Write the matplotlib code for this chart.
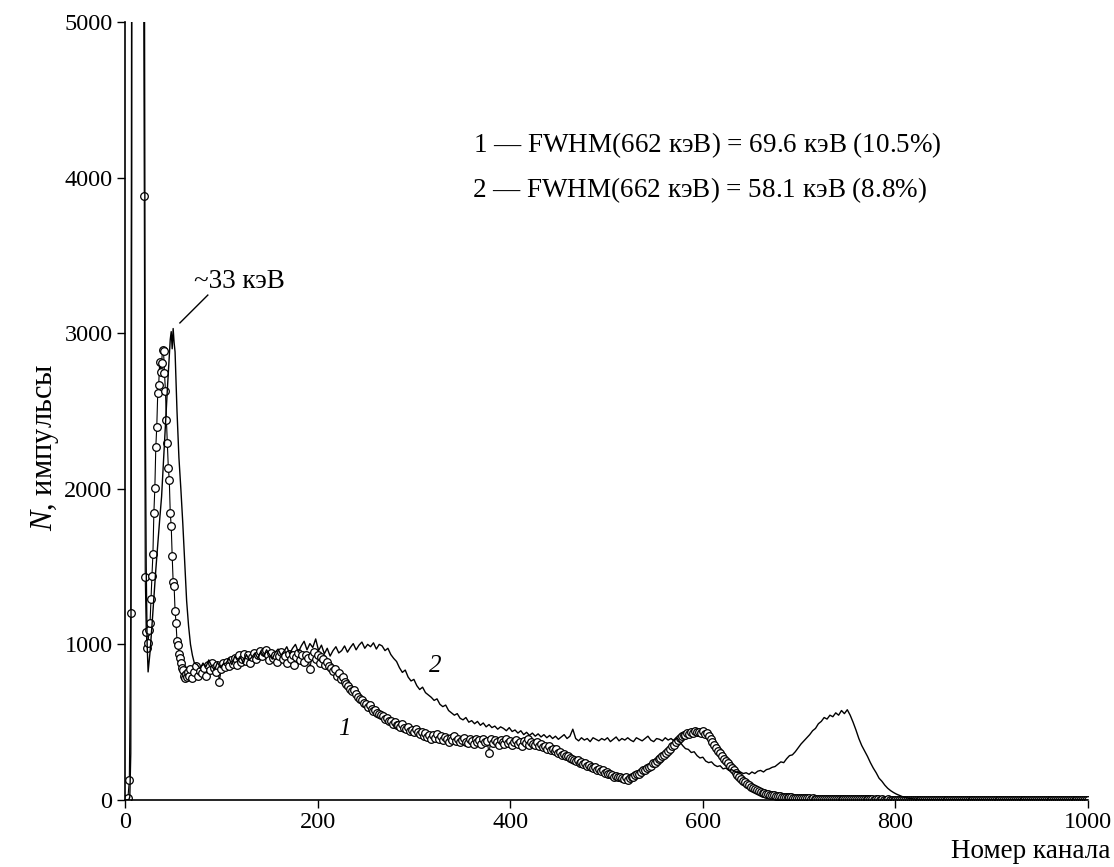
import numpy as np
import matplotlib
matplotlib.use("Agg")
import matplotlib.pyplot as plt

plt.rcParams['font.family'] = ['Liberation Serif', 'DejaVu Serif']
plt.rcParams['mathtext.fontset'] = 'custom'
plt.rcParams['mathtext.rm'] = 'Liberation Serif'
plt.rcParams['mathtext.it'] = 'Liberation Serif:italic'

# ---------------- curve 1 (open circles) ----------------
c1_head_ch = [0, 1.5, 3, 4.5, 6, 7.5, 9, 10.5, 12, 13.5, 15, 16.5, 18, 19]
c1_head_n = [0, 4, 10, 128, 1200, 9000, 15000, 19000, 21000, 20000, 17000, 13000, 8000, 6000]

# channels 20..65, one per channel
c1_peak_n = [3880, 1435, 1080, 977, 1009, 1093, 1137, 1292, 1441, 1581,
             1847, 2005, 2269, 2399, 2614, 2667, 2817, 2753, 2811, 2892,
             2888, 2746, 2629, 2442, 2296, 2134, 2057, 1843, 1762, 1568,
             1403, 1375, 1215, 1137, 1024, 996, 938, 913, 880, 850,
             835, 800, 784, 810, 790, 825]

# channels 66..698, step 2
c1_body_n = [800, 840, 785, 820, 860, 800, 830, 815, 850, 795,
             870, 835, 880, 850, 820, 865, 760, 845, 880, 855,
             890, 860, 900, 875, 915, 870, 930, 885, 905, 940,
             895, 935, 880, 920, 945, 905, 930, 960, 925, 950,
             965, 930, 900, 945, 915, 935, 890, 925, 950, 905,
             925, 880, 940, 905, 930, 870, 920, 945, 900, 930,
             890, 935, 915, 840, 925, 950, 905, 935, 880, 920,
             905, 870, 890, 860, 850, 830, 845, 800, 815, 780,
             790, 760, 745, 730, 715, 700, 705, 680, 665, 650,
             640, 625, 615, 600, 610, 585, 575, 580, 560, 555,
             545, 540, 520, 530, 510, 505, 490, 500, 480, 485,
             470, 490, 460, 455, 470, 445, 450, 435, 455, 440,
             425, 440, 410, 430, 405, 420, 395, 415, 400, 425,
             390, 410, 385, 405, 395, 375, 400, 385, 410, 380,
             395, 370, 385, 400, 375, 365, 390, 380, 360, 395,
             375, 385, 360, 395, 370, 380, 300, 390, 365, 385,
             370, 355, 385, 375, 360, 390, 365, 380, 355, 375,
             385, 360, 375, 350, 380, 365, 390, 355, 370, 360,
             355, 375, 345, 360, 340, 350, 330, 345, 320, 330,
             315, 325, 300, 310, 290, 295, 280, 285, 270, 265,
             260, 250, 255, 240, 245, 230, 235, 220, 225, 215,
             205, 210, 195, 200, 185, 190, 175, 180, 170, 165,
             160, 150, 155, 145, 150, 140, 135, 145, 130, 140,
             150, 145, 160, 170, 165, 180, 190, 195, 205, 215,
             220, 235, 240, 250, 265, 270, 285, 290, 305, 315,
             330, 345, 355, 370, 385, 400, 410, 420, 415, 430,
             425, 440, 430, 445, 435, 440, 430, 445, 425, 430,
             410, 390, 375, 355, 335, 315, 300, 280, 265, 250,
             235, 220, 205, 190, 175, 160, 150, 135, 125, 115,
             105, 95, 85, 78, 70, 64, 58, 52, 48, 43,
             40, 36, 33, 31, 29, 27, 25, 23, 22, 20,
             19, 18, 17, 16, 15, 14, 13]

# channels 700..998, step 2, then channel 1000
c1_tail_n = [12, 11, 12, 10, 11, 10, 9, 10, 9, 8,
             9, 8, 8, 7, 8, 7, 7, 6, 7, 6,
             6, 7, 6, 5, 6, 5, 5, 6, 5, 4,
             5, 5, 4, 5, 4, 4, 5, 4, 4, 3,
             4, 4, 3, 4, 3, 3, 4, 3, 3, 2,
             3, 3, 2, 3, 3, 2, 3, 2, 2, 3,
             2, 2, 3, 2, 2, 2, 3, 2, 2, 1,
             2, 2, 2, 1, 2, 2, 1, 2, 1, 2,
             2, 1, 2, 1, 1, 2, 1, 2, 1, 1,
             2, 1, 1, 1, 2, 1, 1, 1, 1, 2,
             1, 1, 1, 1, 2, 1, 1, 0, 1, 1,
             1, 0, 1, 1, 1, 0, 1, 1, 0, 1,
             1, 0, 1, 0, 1, 1, 0, 1, 0, 1,
             0, 1, 1, 0, 1, 0, 0, 1, 0, 1,
             0, 1, 0, 0, 1, 0, 1, 0, 0, 1,
             0]

# ---------------- curve 2 (solid line) ----------------
c2_head_ch = [0, 2, 4, 5, 6, 7, 8, 10, 12, 14, 16, 18, 19, 20, 21, 22, 23,
              24, 26, 28, 30, 32, 34, 36, 38, 40, 42, 44, 46, 47, 48, 49, 50,
              51, 52, 53, 54, 56, 58, 60, 62, 64, 66, 68, 70, 72]
c2_head_n = [0, 0, 2, 20, 300, 4000, 12000, 20000, 25000, 24000, 20000, 14000, 10000, 6000, 2600, 1500, 1000,
             823, 950, 1120, 1300, 1480, 1640, 1800, 1950, 2180, 2420, 2640, 2850, 2960, 3010, 2900, 3030,
             2940, 2880, 2700, 2500, 2200, 2000, 1780, 1530, 1280, 1120, 1000, 930, 880]

# channels 75..828, step 3
c2_body_n = [870, 845, 880, 855, 900, 860, 835, 885, 850, 875,
             880, 910, 870, 925, 895, 915, 880, 935, 900, 920,
             945, 910, 955, 925, 965, 935, 905, 950, 970, 930,
             955, 985, 940, 975, 1000, 950, 990, 1020, 965, 1005,
             980, 1035, 960, 995, 940, 975, 925, 960, 985, 945,
             960, 990, 950, 980, 1005, 965, 995, 1015, 975, 1000,
             985, 1010, 970, 1000, 990, 960, 975, 935, 910, 890,
             850, 820, 835, 790, 765, 775, 735, 710, 725, 690,
             675, 660, 640, 650, 615, 600, 610, 575, 560, 545,
             555, 525, 515, 530, 500, 510, 490, 505, 480, 495,
             470, 485, 465, 475, 455, 470, 460, 445, 465, 440,
             450, 430, 445, 420, 435, 415, 430, 410, 425, 405,
             420, 400, 415, 395, 410, 390, 405, 420, 395, 410,
             455, 395, 380, 400, 385, 395, 375, 400, 390, 380,
             395, 385, 400, 375, 390, 405, 380, 395, 385, 400,
             385, 375, 400, 390, 380, 395, 410, 385, 375, 395,
             390, 380, 400, 385, 395, 380, 400, 375, 350, 330,
             325, 305, 310, 285, 270, 275, 250, 240, 245, 225,
             215, 220, 200, 205, 190, 195, 185, 175, 180, 170,
             175, 165, 180, 170, 185, 190, 180, 195, 200, 210,
             215, 230, 245, 240, 265, 285, 290, 310, 335, 360,
             380, 400, 420, 445, 460, 490, 505, 530, 520, 545,
             535, 560, 545, 575, 555, 580, 545, 500, 450, 395,
             350, 315, 280, 240, 205, 175, 140, 120, 95, 75,
             60, 48, 38, 30, 22, 17, 12, 9, 6, 4,
             3, 2]

c2_tail_ch = [840, 870, 900, 930, 960, 1000]
c2_tail_n = [1, 1, 0, 1, 0, 0]

ch1 = np.concatenate([c1_head_ch, np.arange(20, 66), np.arange(66, 700, 2),
                      np.arange(700, 1000, 2), [1000]])
n1 = np.concatenate([c1_head_n, c1_peak_n, c1_body_n, c1_tail_n])
ch2 = np.concatenate([c2_head_ch, np.arange(75, 829, 3), c2_tail_ch])
n2 = np.concatenate([c2_head_n, c2_body_n, c2_tail_n])

fig = plt.figure(figsize=(11.14, 8.67), dpi=100)
ax = fig.add_axes([0.1122, 0.0773, 0.8645, 0.8973])

ax.plot(ch1, n1, '-', color='k', lw=0.8, marker='o', ms=5.5,
        mfc='white', mec='k', mew=0.9)
ax.plot(ch2, n2, '-', color='k', lw=1.0)

ax.set_xlim(0, 1000)
ax.set_ylim(0, 5000)
ax.set_xticks([0, 200, 400, 600, 800, 1000])
ax.set_yticks([0, 1000, 2000, 3000, 4000, 5000])
ax.tick_params(direction='out', length=6, width=1.0, labelsize=17.5, pad=3)
for s in ['top', 'right']:
    ax.spines[s].set_visible(False)
for s in ['left', 'bottom']:
    ax.spines[s].set_linewidth(1.2)

# annotations
ax.plot([57, 86], [3066, 3245], color='k', lw=1.0)
ax.text(72, 3290, '~33 кэВ', fontsize=19.5, ha='left', va='baseline')
ax.text(361, 4209, r'$\mathit{1}$ — FWHM(662 кэВ) = 69.6 кэВ (10.5%)',
        fontsize=19.5, ha='left', va='center')
ax.text(360, 3920, r'$\mathit{2}$ — FWHM(662 кэВ) = 58.1 кэВ (8.8%)',
        fontsize=19.5, ha='left', va='center')
ax.text(322, 861, '2', fontsize=18, style='italic', ha='center', va='center')
ax.text(228, 456, '1', fontsize=18, style='italic', ha='center', va='center')

fig.text(1110 / 1114, 1 - 852 / 867, 'Номер канала', fontsize=19.5,
         ha='right', va='center')
fig.text(45 / 1114, 1 - 447 / 867, r'$\mathit{N}$, импульсы', fontsize=22,
         rotation=90, ha='center', va='center')

fig.savefig('out.png', dpi=100)
